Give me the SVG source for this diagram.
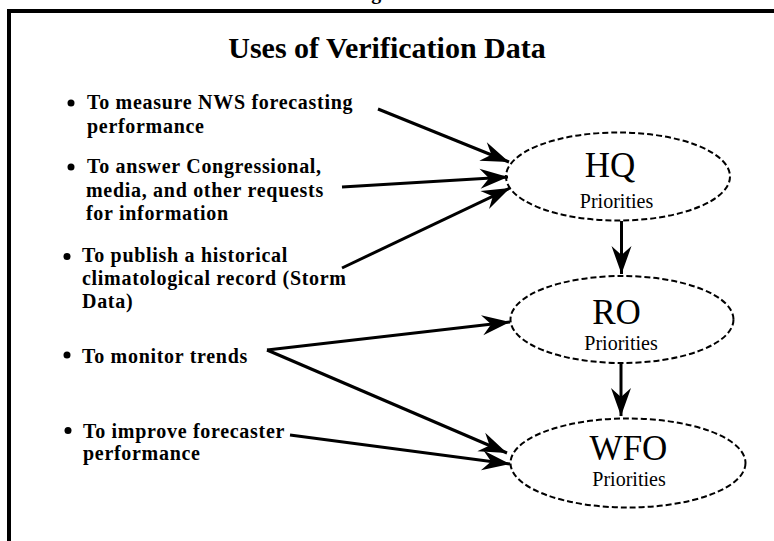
<svg xmlns="http://www.w3.org/2000/svg" width="774" height="541" viewBox="0 0 774 541">
<style>
  .bl { font-family: "Liberation Serif", "Times New Roman", serif; font-weight: bold; font-size: 20px; fill: #000; letter-spacing: 0.7px; }
  .title { font-family: "Liberation Serif", "Times New Roman", serif; font-weight: bold; font-size: 30px; fill: #000; }
  .big { font-family: "Liberation Serif", "Times New Roman", serif; font-size: 35px; fill: #000; }
  .pri { font-family: "Liberation Serif", "Times New Roman", serif; font-size: 20px; fill: #000; }
  .ell { fill: none; stroke: #000; stroke-width: 2; stroke-dasharray: 6 3; }
  .con { fill: none; stroke: #000; stroke-width: 3; marker-end: url(#arr); }
  .dot { fill: #000; }
</style>
<defs>
  <marker id="arr" markerUnits="userSpaceOnUse" markerWidth="32" markerHeight="24" viewBox="-30 -12 32 24" refX="0" refY="0" orient="auto">
    <path d="M0,0 L-28,-10 L-19,0 L-28,10 Z" fill="#000"/>
  </marker>
</defs>
<rect width="774" height="541" fill="#fff"/>
<text class="bl" x="376.5" y="-1" text-anchor="middle">g</text>
<rect x="9" y="11" width="800" height="600" fill="none" stroke="#000" stroke-width="4"/>
<text class="title" x="387" y="58" text-anchor="middle">Uses of Verification Data</text>

<g id="uses">
  <g id="use1">
    <circle class="dot" cx="71" cy="103" r="3.5"/>
    <text class="bl" x="87" y="109">To measure NWS forecasting</text>
    <text class="bl" x="87" y="132.5">performance</text>
  </g>
  <g id="use2">
    <circle class="dot" cx="71" cy="167" r="3.5"/>
    <text class="bl" x="87" y="173">To answer Congressional,</text>
    <text class="bl" x="86" y="196.5">media, and other requests</text>
    <text class="bl" x="86" y="219.5">for information</text>
  </g>
  <g id="use3">
    <circle class="dot" cx="67" cy="256.5" r="3.5"/>
    <text class="bl" x="82" y="262">To publish a historical</text>
    <text class="bl" x="82" y="285">climatological record (Storm</text>
    <text class="bl" x="82" y="307.5">Data)</text>
  </g>
  <g id="use4">
    <circle class="dot" cx="67" cy="355" r="3.5"/>
    <text class="bl" x="82" y="362.5">To monitor trends</text>
  </g>
  <g id="use5">
    <circle class="dot" cx="68" cy="430.5" r="3.5"/>
    <text class="bl" x="83" y="437.5">To improve forecaster</text>
    <text class="bl" x="83" y="459.5">performance</text>
  </g>
</g>

<g id="hq">
  <ellipse class="ell" cx="618" cy="176.5" rx="112" ry="44"/>
  <text class="big" x="610" y="176.5" text-anchor="middle">HQ</text>
  <text class="pri" x="616.5" y="207.5" text-anchor="middle">Priorities</text>
</g>
<g id="ro">
  <ellipse class="ell" cx="622" cy="319.5" rx="111.5" ry="43.5"/>
  <text class="big" x="616.5" y="323.5" text-anchor="middle">RO</text>
  <text class="pri" x="621" y="350" text-anchor="middle">Priorities</text>
</g>
<g id="wfo">
  <ellipse class="ell" cx="628" cy="463" rx="117.5" ry="44.5"/>
  <text class="big" x="628.5" y="460" text-anchor="middle">WFO</text>
  <text class="pri" x="629" y="485.5" text-anchor="middle">Priorities</text>
</g>

<g id="connectors">
  <line class="con" x1="378" y1="109" x2="509" y2="162"/>
  <line class="con" x1="342" y1="187" x2="508" y2="177"/>
  <line class="con" x1="342" y1="268" x2="510" y2="188"/>
  <line class="con" x1="267" y1="350" x2="510" y2="322"/>
  <line class="con" x1="267" y1="350" x2="507" y2="453"/>
  <line class="con" x1="290" y1="435" x2="510" y2="464"/>
  <line class="con" x1="621.5" y1="221" x2="621.5" y2="274"/>
  <line class="con" x1="621" y1="363" x2="621" y2="416"/>
</g>
</svg>
